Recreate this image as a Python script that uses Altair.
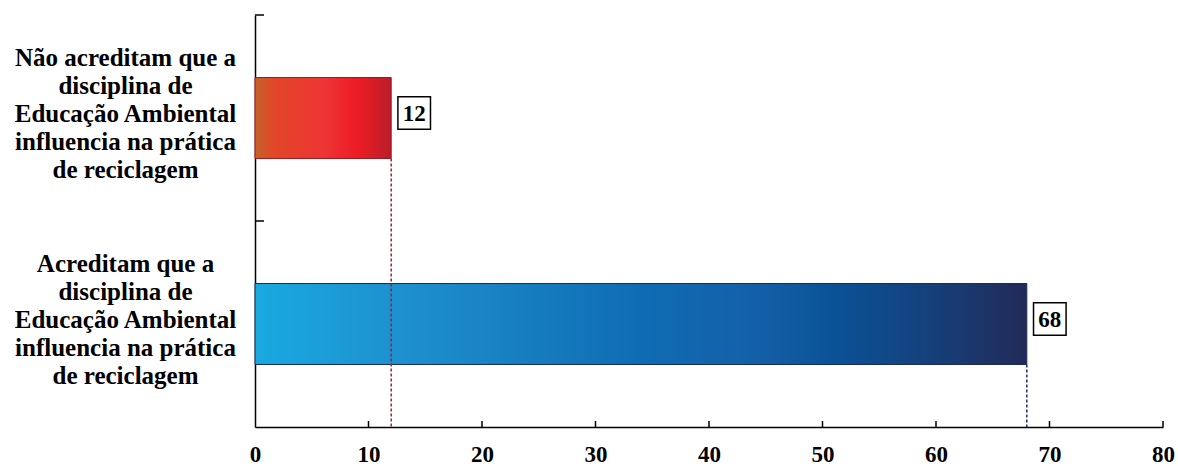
import altair as alt
import pandas as pd

# Survey answers: each category label split into its display lines
label_lines = [
    ["Não acreditam que a", "disciplina de", "Educação Ambiental",
     "influencia na prática", "de reciclagem"],
    ["Acreditam que a", "disciplina de", "Educação Ambiental",
     "influencia na prática", "de reciclagem"],
]
counts = [12, 68]
x_ticks = [10, 20, 30, 40, 50, 60, 70, 80]

categories = ["|".join(lines) for lines in label_lines]
df = pd.DataFrame({"cat": categories, "n": counts, "grp": ["nao", "sim"]})
ticks_df = pd.DataFrame({"t": x_ticks})

SERIF = "Liberation Serif"
W, H = 908, 412
BAR_FRAC = 0.393  # bar thickness as a share of each category slot

red_grad = alt.Gradient(
    gradient="linear", x1=0, x2=1, y1=0, y2=0,
    stops=[
        alt.GradientStop(offset=0.0, color="#c5622b"),
        alt.GradientStop(offset=0.15, color="#e24628"),
        alt.GradientStop(offset=0.5, color="#ee3535"),
        alt.GradientStop(offset=0.75, color="#ed1c24"),
        alt.GradientStop(offset=1.0, color="#b81e29"),
    ],
)
blue_grad = alt.Gradient(
    gradient="linear", x1=0, x2=1, y1=0, y2=0,
    stops=[
        alt.GradientStop(offset=0.0, color="#19a9e1"),
        alt.GradientStop(offset=0.19, color="#1e90cf"),
        alt.GradientStop(offset=0.5, color="#0f6cb4"),
        alt.GradientStop(offset=0.65, color="#1460a8"),
        alt.GradientStop(offset=0.75, color="#0a5296"),
        alt.GradientStop(offset=0.88, color="#163f7a"),
        alt.GradientStop(offset=1.0, color="#212a58"),
    ],
)

x_scale = alt.Scale(domain=[0, 80], nice=False)
y_scale = alt.Scale(domain=categories, paddingInner=0, paddingOuter=0)

x_enc = alt.X(
    "n:Q", scale=x_scale, title=None,
    axis=alt.Axis(
        values=[0] + x_ticks, ticks=False, tickSize=0, grid=False,
        domainColor="black", domainWidth=1.5,
        labelFont=SERIF, labelFontWeight="bold", labelFontSize=23,
        labelColor="black", labelPadding=16, labelFlush=False,
    ),
)
y_enc = alt.Y(
    "cat:N", scale=y_scale, title=None, sort=categories,
    axis=alt.Axis(
        ticks=False, tickSize=0, domainColor="black", domainWidth=1.5,
        labelExpr="split(datum.label, '|')",
        labelFont=SERIF, labelFontWeight="bold", labelFontSize=25,
        labelColor="black", labelAlign="center", labelBaseline="middle",
        labelLineHeight=28, labelPadding=130, labelLimit=400, labelOffset=-60,
    ),
)


def y_plain(pos=0.5):
    return alt.Y("cat:N", scale=y_scale, sort=categories, bandPosition=pos)


x_plain = alt.X("n:Q", scale=x_scale)
base = alt.Chart(df)

bar_red = base.transform_filter(alt.datum.grp == "nao").mark_bar(
    color=red_grad, stroke="#9a1b1f", strokeWidth=1,
    height=alt.RelativeBandSize(BAR_FRAC),
).encode(x=x_enc, y=y_enc)

bar_blue = base.transform_filter(alt.datum.grp == "sim").mark_bar(
    color=blue_grad, stroke="#1b2b55", strokeWidth=1,
    height=alt.RelativeBandSize(BAR_FRAC),
).encode(x=x_plain, y=alt.Y("cat:N", scale=y_scale, sort=categories))

# dashed drop lines from each bar's end down to the x axis
bottom = 0.5 + BAR_FRAC / 2
drop_red = base.transform_filter(alt.datum.grp == "nao").mark_rule(
    color="#8e2a35", strokeDash=[3, 2], strokeWidth=1.5
).encode(x=x_plain, y=y_plain(bottom), y2=alt.value(H))
drop_blue = base.transform_filter(alt.datum.grp == "sim").mark_rule(
    color="#1f3466", strokeDash=[3, 2], strokeWidth=1.5
).encode(x=x_plain, y=y_plain(bottom), y2=alt.value(H))

# boxed value labels
boxes = base.mark_point(
    shape="square", size=1060, filled=True, fill="white",
    stroke="black", strokeWidth=1.5, opacity=1, xOffset=23, yOffset=-5,
).encode(x=x_plain, y=y_plain())

values_txt = base.mark_text(
    font=SERIF, fontWeight="bold", fontSize=23, color="black",
    align="center", baseline="middle", xOffset=23, yOffset=-4,
).encode(x=x_plain, y=y_plain(), text="n:Q")

# inward tick marks on both axes
x_tick_marks = alt.Chart(ticks_df).mark_rule(color="black", strokeWidth=1.5).encode(
    x=alt.X("t:Q", scale=x_scale), y=alt.value(H - 6), y2=alt.value(H)
)
y_tick_marks = base.mark_rule(color="black", strokeWidth=1.5).encode(
    y=y_plain(0), x=alt.value(0), x2=alt.value(9),
)

chart = alt.layer(
    bar_red, bar_blue, drop_red, drop_blue, boxes, values_txt,
    x_tick_marks, y_tick_marks,
).properties(
    width=W, height=H,
    autosize=alt.AutoSizeParams(type="none"),
    padding={"left": 255, "top": 15, "right": 15, "bottom": 39},
    background="white",
).configure_view(stroke=None)

chart.save("out.html", embed_options={"renderer": "svg", "actions": False})
